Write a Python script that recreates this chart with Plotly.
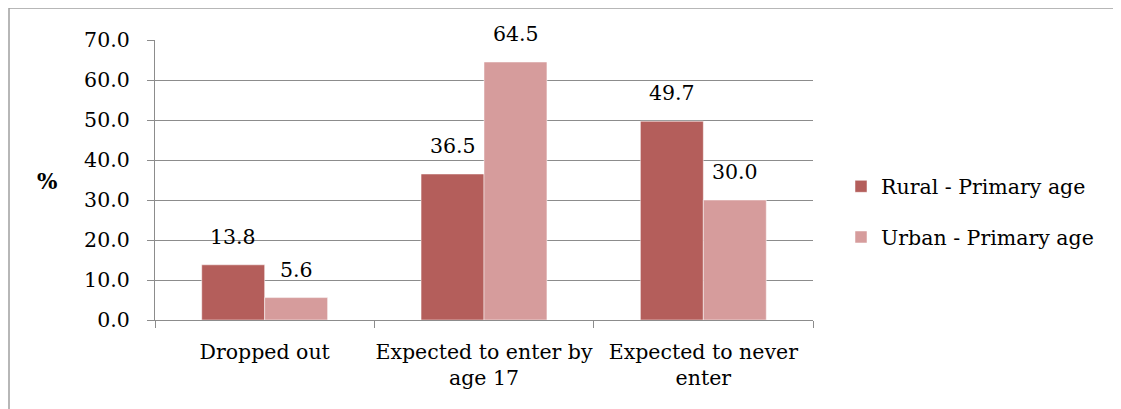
import plotly.graph_objects as go

categories = ["Dropped out", "Expected to enter by<br>age 17", "Expected to never<br>enter"]
rural = [13.8, 36.5, 49.7]
urban = [5.6, 64.5, 30.0]
series_names = ["Rural - Primary age", "Urban - Primary age"]
tick_vals = [0, 10, 20, 30, 40, 50, 60, 70]
tick_text = ["0.0", "10.0", "20.0", "30.0", "40.0", "50.0", "60.0", "70.0"]

FONT = "DejaVu Serif"
FS = 20.5
RURAL_C = "#B45E5B"
URBAN_C = "#D69C9C"
GRID_C = "#8C8C8C"

OFF = 8  # page body margin
W, H = 1121, 409
L, T = 155 - OFF, 40 - OFF
pw, ph = 658, 280
R = W - L - pw
B = H - T - ph

fig = go.Figure()
fig.add_trace(go.Bar(x=categories, y=rural, name=series_names[0], marker_color=RURAL_C,
                     marker_line=dict(color="white", width=0.5), legendgroup="a"))
fig.add_trace(go.Bar(x=categories, y=urban, name=series_names[1], marker_color=URBAN_C,
                     marker_line=dict(color="white", width=0.5), legendgroup="b"))

annotations = []
for i, c in enumerate(categories):
    for vals, xs in ((rural, -1), (urban, 1)):
        annotations.append(dict(x=c, y=vals[i], xref="x", yref="y", text=f"{vals[i]:.1f}",
                                showarrow=False, yshift=28, xshift=xs * 31.5,
                                font=dict(family=FONT, size=FS, color="black"),
                                xanchor="center", yanchor="middle"))
annotations.append(dict(x=(47 - 155) / pw, y=(320 - 181) / ph, xref="paper", yref="paper",
                        text="<b>%</b>", showarrow=False,
                        font=dict(family=FONT, size=FS + 1, color="black"),
                        xanchor="center", yanchor="middle"))

fig.update_layout(
    width=W, height=H,
    margin=dict(l=L, r=R, t=T, b=B, autoexpand=False),
    paper_bgcolor="white", plot_bgcolor="white",
    barmode="group", bargap=0.426, bargroupgap=0,
    font=dict(family=FONT, size=FS, color="black"),
    showlegend=True,
    legend=dict(x=(841 - 155) / pw, y=(320 - 212) / ph, xanchor="left", yanchor="middle",
                font=dict(family=FONT, size=FS, color="black"),
                traceorder="grouped", tracegroupgap=21, itemwidth=30,
                bgcolor="rgba(0,0,0,0)"),
    annotations=annotations,
    shapes=[dict(type="rect", xref="paper", yref="paper",
                 x0=(9 - 155) / pw, x1=(1135 - 155) / pw, y0=(320 - 430) / ph, y1=(320 - 8) / ph,
                 line=dict(color="#A0A0A0", width=1.5), fillcolor="rgba(0,0,0,0)", layer="below")],
)
fig.update_yaxes(range=[0, 70], tickvals=tick_vals, ticktext=tick_text,
                 showgrid=True, gridcolor=GRID_C, gridwidth=1.3,
                 showline=True, linecolor=GRID_C, linewidth=1.3,
                 ticks="outside", ticklen=7, tickcolor=GRID_C, tickwidth=1.3,
                 ticklabelstandoff=13, zeroline=False,
                 tickfont=dict(family=FONT, size=FS, color="black"))
fig.update_xaxes(showline=True, linecolor=GRID_C, linewidth=1.3,
                 ticks="outside", ticklen=7, tickcolor=GRID_C, tickwidth=1.3,
                 tickson="boundaries", ticklabelstandoff=13, tickangle=0,
                 tickfont=dict(family=FONT, size=FS, color="black"))

fig.write_html("out.html")
